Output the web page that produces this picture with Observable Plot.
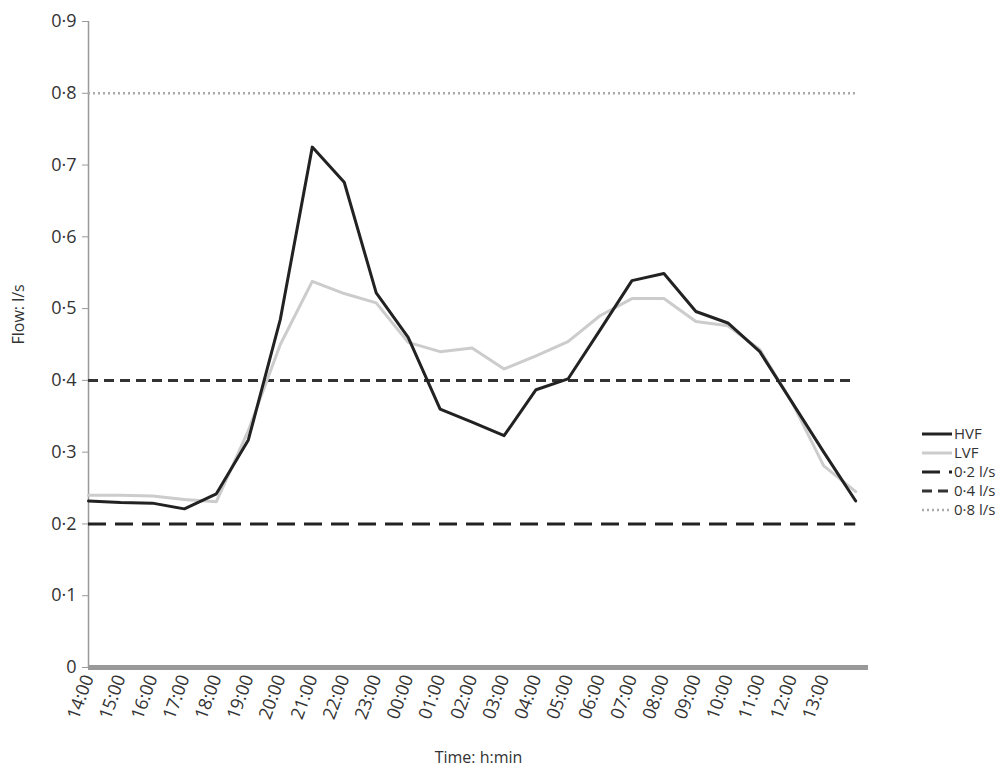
<!DOCTYPE html>
<html>
<head>
<meta charset="utf-8">
<script src="https://cdn.jsdelivr.net/npm/d3@7"></script>
<script src="https://cdn.jsdelivr.net/npm/@observablehq/plot@0.6"></script>
<style>
body { margin: 0; background: #fff; font-family: "Open Sans", sans-serif; }
#wrap { position: relative; width: 1004px; height: 771px; }
#legend { position: absolute; left: 922px; top: 424px; font-size: 15px; color: #333; line-height: 19px; white-space: nowrap; }
#legend div { display: flex; align-items: center; height: 19px; }
#legend svg { margin-right: 2px; flex: none; }
</style>
</head>
<body>
<div id="wrap"><div id="graph"></div><div id="legend"></div></div>
<script>
const horas = ["14:00","15:00","16:00","17:00","18:00","19:00","20:00","21:00","22:00","23:00","00:00","01:00","02:00","03:00","04:00","05:00","06:00","07:00","08:00","09:00","10:00","11:00","12:00","13:00"];
const hvf = [0.232,0.230,0.229,0.221,0.242,0.317,0.485,0.725,0.676,0.522,0.46,0.36,0.342,0.323,0.387,0.402,0.47,0.539,0.549,0.496,0.48,0.44,0.37,0.30,0.232];
const lvf = [0.240,0.240,0.239,0.234,0.231,0.33,0.45,0.538,0.521,0.508,0.453,0.44,0.445,0.416,0.434,0.454,0.49,0.514,0.514,0.482,0.476,0.443,0.37,0.281,0.245];
const umbrales = [0.2, 0.4, 0.8];

const fmt = d => d3.format(".1f")(d).replace(".", "·").replace("0·0", "0");
const serie = v => v.map((y, i) => ({x: i, y}));
const estilos = [
  {stroke: "#222", strokeWidth: 3, strokeDasharray: "18,9"},
  {stroke: "#333", strokeWidth: 3, strokeDasharray: "10,6"},
  {stroke: "#aaa", strokeWidth: 2.5, strokeDasharray: "2,3"}
];

const chart = Plot.plot({
  width: 1004,
  height: 771,
  marginTop: 21,
  marginLeft: 88,
  marginRight: 136,
  marginBottom: 104,
  style: "font-family: 'Open Sans'; font-size: 18px; color: #333;",
  x: {domain: [0, 24.4]},
  y: {domain: [0, 0.9]},
  marks: [
    Plot.axisY({ticks: d3.range(0, 0.91, 0.1), tickFormat: fmt, label: null, tickSize: 6, stroke: "#999", fontSize: 18, tickPadding: 6}),
    Plot.axisX({ticks: d3.range(24), tickFormat: i => horas[i], tickRotate: -70, tickSize: 0, label: null, fontSize: 18, tickPadding: 8}),
    Plot.ruleX([0], {stroke: "#999", strokeWidth: 1.5}),
    ...umbrales.map((u, i) => Plot.ruleY([u], {x1: 0, x2: 24, ...estilos[i]})),
    Plot.line(serie(lvf), {x: "x", y: "y", stroke: "#ccc", strokeWidth: 3}),
    Plot.line(serie(hvf), {x: "x", y: "y", stroke: "#222", strokeWidth: 3}),
    Plot.ruleY([0], {stroke: "#999", strokeWidth: 5}),
    Plot.text(["Time: h:min"], {frameAnchor: "bottom", dy: 95, dx: 0, fontSize: 16}),
    Plot.text(["Flow: l/s"], {frameAnchor: "left", dx: -70, rotate: -90, fontSize: 16})
  ]
});
d3.select("#graph").append(() => chart);

const leyenda = [
  ["HVF", {stroke: "#222", strokeWidth: 3}],
  ["LVF", {stroke: "#ccc", strokeWidth: 3}],
  ["0·2 l/s", estilos[0]],
  ["0·4 l/s", estilos[1]],
  ["0·8 l/s", estilos[2]]
];
const leg = d3.select("#legend");
leyenda.forEach(([t, s]) => {
  const row = leg.append("div");
  const svg = row.append("svg").attr("width", 30).attr("height", 10);
  svg.append("line").attr("x1", 0).attr("x2", 30).attr("y1", 5).attr("y2", 5)
    .attr("stroke", s.stroke).attr("stroke-width", s.strokeWidth)
    .attr("stroke-dasharray", s.strokeDasharray || null);
  row.append("span").text(t);
});
</script>
</body>
</html>
